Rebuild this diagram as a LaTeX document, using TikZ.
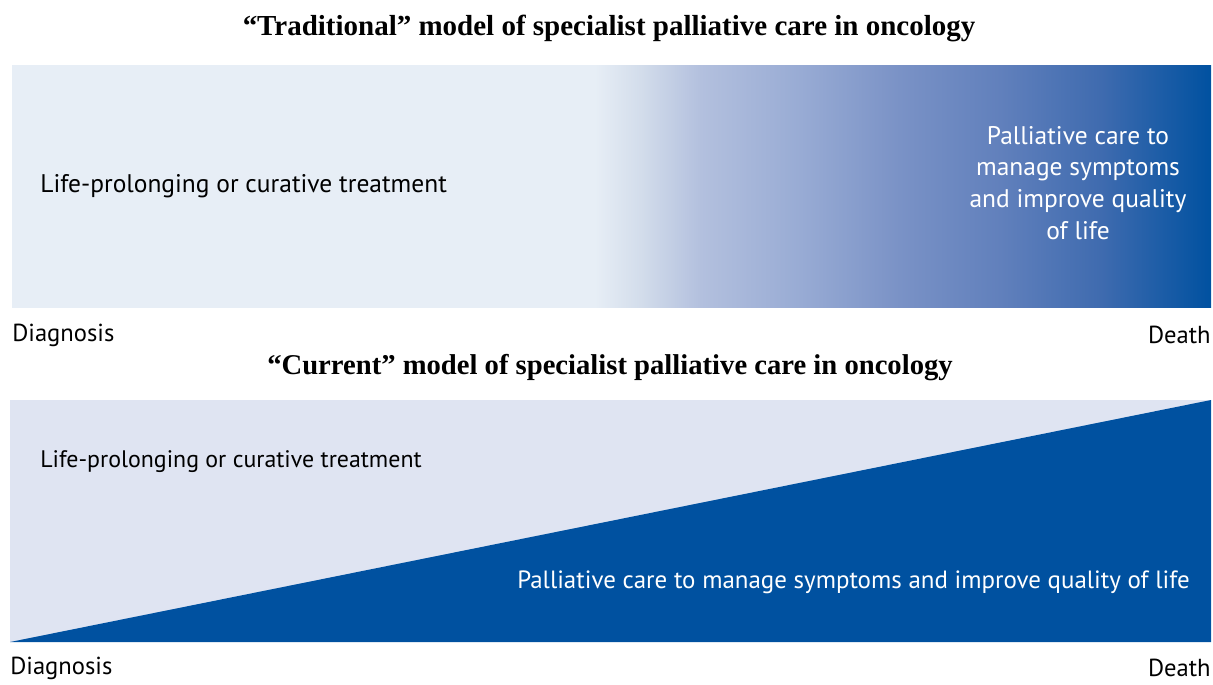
\documentclass[tikz,border=0pt]{standalone}
\usepackage{fontspec}
\setmainfont{Liberation Serif}
\newfontfamily\labelfont{PT Sans}
\usepackage{tikz}

\definecolor{paleblue}{HTML}{E7EEF6}
\definecolor{palelilac}{HTML}{DFE4F2}
\definecolor{careblue}{HTML}{0051A0}
\definecolor{gradA}{HTML}{D3DDEB}
\definecolor{gradB}{HTML}{B3C0DE}
\definecolor{gradC}{HTML}{98ABD4}
\definecolor{gradD}{HTML}{7A92C6}
\definecolor{gradE}{HTML}{6180BC}
\definecolor{gradF}{HTML}{3F6BAF}

\pgfdeclarehorizontalshading{caregrad}{100bp}{color(0bp)=(paleblue); color(49.3bp)=(paleblue);
  color(51.2bp)=(gradA); color(53.7bp)=(gradB); color(57.9bp)=(gradC); color(62bp)=(gradD);
  color(66.2bp)=(gradE); color(70.4bp)=(gradF); color(75bp)=(careblue); color(100bp)=(careblue)}

\tikzset{
  title/.style={font=\fontsize{16.5}{18}\selectfont\bfseries},
  axislabel/.style={font=\labelfont\fontsize{14}{16}\selectfont, inner sep=0pt},
  phase/.style={font=\labelfont\fontsize{14.5}{18.1}\selectfont, inner sep=0pt},
}

\begin{document}
\begin{tikzpicture}[x=0.02cm,y=-0.02cm]
	\useasboundingbox [fill=white] (0,0) rectangle (1213,684) ;
	% traditional model
	\draw (609,28) node (toptitle) [title] {``Traditional'' model of specialist palliative care in oncology} ;
	\shade [shading=caregrad] (12,65) rectangle (1211,307) ;
	\draw (40,186) node (topcure) [phase,anchor=west] {Life-prolonging or curative treatment} ;
	\draw (1078,183) node (toppall) [phase,text=white,align=center] {Palliative care to\\manage symptoms\\and improve quality\\of life} ;
	\draw (12,335) node (topdiag) [axislabel,anchor=west] {Diagnosis} ;
	\draw (1211,335) node (topdeath) [axislabel,anchor=east] {Death} ;
	% current model
	\draw (610,368) node (bottitle) [title,font=\fontsize{16.3}{18}\selectfont\bfseries] {``Current'' model of specialist palliative care in oncology} ;
	\fill [palelilac] (10,400) rectangle (1211,642) ;
	\fill [careblue] (10,642) -- (1211,400) -- (1211,642) -- cycle ;
	\draw (40,462) node (botcure) [phase,anchor=west,font=\labelfont\fontsize{13.6}{16}\selectfont] {Life-prolonging or curative treatment} ;
	\draw (1190,582) node (botpall) [phase,anchor=east,text=white,font=\labelfont\fontsize{14.2}{16}\selectfont] {Palliative care to manage symptoms and improve quality of life} ;
	\draw (10,668) node (botdiag) [axislabel,anchor=west] {Diagnosis} ;
	\draw (1211,668) node (botdeath) [axislabel,anchor=east] {Death} ;
\end{tikzpicture}
\end{document}
